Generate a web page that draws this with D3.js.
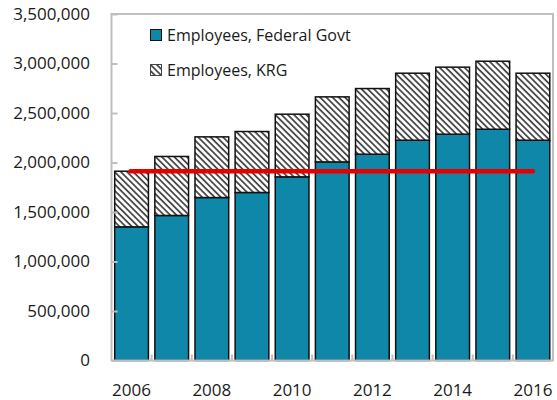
<!DOCTYPE html>
<html>
<head>
<meta charset="utf-8">
<script src="https://cdn.jsdelivr.net/npm/d3@7"></script>
<style>
  body { margin: 0; background: #fff; }
  text { font-family: "Open Sans", "Noto Sans", sans-serif; fill: #1a1a1a; }
</style>
</head>
<body>
<svg id="chart" width="557" height="400"></svg>
<script>
const years = ["2006","2007","2008","2009","2010","2011","2012","2013","2014","2015","2016"];
const federal = [1350000,1465000,1646000,1697000,1855000,2006000,2084000,2225000,2286000,2336000,2225000];
const krg = [562000,596000,613000,616000,633000,657000,663000,677000,677000,687000,677000];
const referenceLevel = [1912000];
const yTicks = [0,500000,1000000,1500000,2000000,2500000,3000000,3500000];
const xTickLabels = ["2006","2008","2010","2012","2014","2016"];
const seriesNames = ["Employees, Federal Govt","Employees, KRG"];

const svg = d3.select("#chart");
const plot = {left: 111.5, right: 553, top: 14, bottom: 360.5};

const defs = svg.append("defs");
const pat = defs.append("pattern").attr("id","hatch").attr("patternUnits","userSpaceOnUse")
  .attr("width",4.4).attr("height",4.4).attr("patternTransform","rotate(45)");
pat.append("rect").attr("width",4.4).attr("height",4.4).attr("fill","#ffffff");
pat.append("rect").attr("x",0).attr("y",0).attr("width",4.4).attr("height",1.8).attr("fill","#4a4a4a");

const x = d3.scaleBand().domain(years).range([plot.left, plot.right]).paddingInner(0.16).paddingOuter(0.08);
const y = d3.scaleLinear().domain([0,3500000]).range([plot.bottom, plot.top]);

const data = years.map((yr,i)=>({year:yr, fed:federal[i], krg:krg[i]}));

// Bars
const g = svg.append("g");
g.selectAll(".fed").data(data).join("rect").attr("class","fed")
  .attr("x",d=>x(d.year)).attr("width",x.bandwidth())
  .attr("y",d=>y(d.fed)).attr("height",d=>y(0)-y(d.fed))
  .attr("fill","#0f87a9").attr("stroke","#111").attr("stroke-width",1.5);
g.selectAll(".krg").data(data).join("rect").attr("class","krg")
  .attr("x",d=>x(d.year)).attr("width",x.bandwidth())
  .attr("y",d=>y(d.fed+d.krg)).attr("height",d=>y(d.fed)-y(d.fed+d.krg))
  .attr("fill","url(#hatch)").attr("stroke","#111").attr("stroke-width",1.5);

// Reference line
svg.append("line")
  .attr("x1", x(years[0]) + x.bandwidth()/2 - 1).attr("x2", x(years[years.length-1]) + x.bandwidth()/2)
  .attr("y1", y(referenceLevel[0])).attr("y2", y(referenceLevel[0]))
  .attr("stroke","#e60000").attr("stroke-width",4.5).attr("stroke-linecap","round");

// Frame
svg.append("rect").attr("x",plot.left).attr("y",plot.top)
  .attr("width",plot.right-plot.left).attr("height",plot.bottom-plot.top)
  .attr("fill","none").attr("stroke","#bfbfbf").attr("stroke-width",2);

// Y axis (ticks inside)
const yAxis = d3.axisLeft(y).tickValues(yTicks).tickSize(-6)
  .tickFormat(d3.format(","));
const ya = svg.append("g").attr("transform",`translate(${plot.left},0)`).call(yAxis);
ya.select(".domain").remove();
ya.selectAll(".tick line").attr("stroke","#bfbfbf").attr("stroke-width",2);
ya.selectAll(".tick text").attr("font-size",17).attr("x",-21.5).attr("fill","#1a1a1a");

// X axis: ticks between categories, labels every other year
const step = x.step();
const xa = svg.append("g");
years.slice(1).forEach(yr=>{
  const bx = x(yr) - (step - x.bandwidth())/2;
  xa.append("line").attr("x1",bx).attr("x2",bx).attr("y1",plot.bottom).attr("y2",plot.bottom-6)
    .attr("stroke","#bfbfbf").attr("stroke-width",2);
});
xa.selectAll("text").data(xTickLabels).join("text")
  .attr("x",d=>x(d)+x.bandwidth()/2).attr("y",396)
  .attr("text-anchor","middle").attr("font-size",17).text(d=>d);

// Legend
const leg = svg.append("g");
leg.append("rect").attr("x",150.5).attr("y",29.5).attr("width",11).attr("height",11)
  .attr("fill","#0f87a9").attr("stroke","#111").attr("stroke-width",1);
leg.append("text").attr("x",167).attr("y",41).attr("font-size",16).text(seriesNames[0]);
leg.append("rect").attr("x",150.5).attr("y",64.5).attr("width",11).attr("height",11)
  .attr("fill","url(#hatch)").attr("stroke","#444").attr("stroke-width",1);
leg.append("text").attr("x",167).attr("y",76).attr("font-size",16).text(seriesNames[1]);
</script>
</body>
</html>
